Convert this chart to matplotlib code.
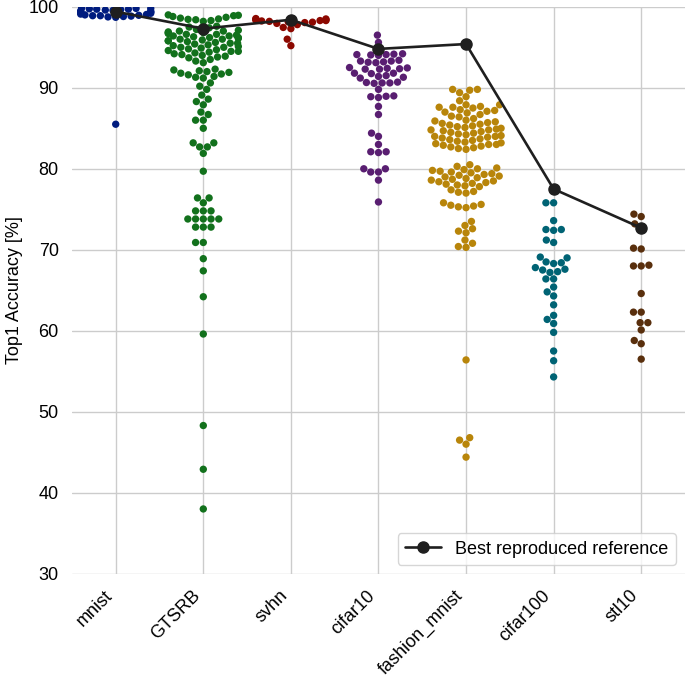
import matplotlib
matplotlib.use("Agg")
import matplotlib.pyplot as plt
import seaborn as sns
import pandas as pd
import warnings

warnings.filterwarnings("ignore")

datasets = ["mnist", "GTSRB", "svhn", "cifar10", "fashion_mnist", "cifar100", "stl10"]

mnist = [99.85, 99.8, 99.8, 99.75, 99.7, 99.7, 99.65, 99.6, 99.55, 99.5, 99.45,
         99.4, 99.35, 99.3, 99.2, 99.1, 99.05, 99.0, 98.95, 98.9, 98.9, 98.85,
         98.8, 98.75, 98.7, 85.5]
gtsrb = [99.0, 98.95, 98.9, 98.8, 98.7, 98.6, 98.5, 98.45, 98.4, 98.3, 98.2,
         97.6, 97.5, 97.4, 97.2,
         97.1, 97.0, 97.0, 96.9, 96.8, 96.8, 96.7, 96.6, 96.6, 96.5, 96.4, 96.4,
         96.3, 96.2, 96.2, 96.1, 96.0, 96.0, 95.9, 95.8, 95.8, 95.7, 95.6, 95.5,
         95.5, 95.4, 95.3, 95.2, 95.1, 95.0, 95.0, 94.9, 94.8, 94.7, 94.6, 94.5,
         94.5, 94.4, 94.3, 94.2, 94.1, 94.0, 93.9, 93.8, 93.7, 93.5, 93.3, 93.1,
         92.3, 92.2, 92.1, 92.0, 91.9, 91.8, 91.7, 91.6, 91.4, 91.3, 91.2,
         90.6, 90.2, 89.8, 89.1, 88.6, 88.3, 87.9, 87.0, 86.7, 86.0, 86.0, 85.0,
         83.2, 83.2, 82.7, 82.7, 81.9, 79.7,
         76.4, 76.4, 75.8, 74.8, 74.8, 74.8, 73.8, 73.8, 73.8, 73.8, 73.8,
         72.8, 72.8, 72.8, 70.9, 70.9, 68.9, 67.4, 64.2, 59.6, 48.3, 42.9, 38.0]
svhn = [98.55, 98.5, 98.45, 98.4, 98.35, 98.3, 98.3, 98.25, 98.2, 98.15, 98.1,
        98.05, 97.95, 97.8, 97.45, 97.3, 96.0, 95.2]
cifar10 = [96.5, 95.6, 94.2, 94.15, 94.1, 94.1, 94.05, 94.0, 93.4, 93.3, 93.3,
           93.2, 93.15, 93.1, 92.5, 92.45, 92.4, 92.35, 92.3, 92.3, 91.8, 91.8,
           91.75, 91.5, 91.4, 91.3, 91.2, 90.7, 90.65, 90.6, 90.6, 90.55, 89.8,
           89.0, 88.95, 88.9, 88.8, 87.7, 86.7, 84.4, 84.0, 83.0, 82.1, 82.1,
           82.0, 80.0, 80.0, 79.6, 79.6, 78.6, 75.9]
fashion_mnist = [89.8, 89.8, 89.7, 89.4, 88.9, 88.4,
                 87.9, 87.9, 87.7, 87.6, 87.6, 87.5, 87.3, 87.2, 87.1, 87.0, 86.9,
                 86.7, 86.5, 86.4, 86.2, 86.0, 85.9,
                 85.8, 85.7, 85.6, 85.5, 85.4, 85.3, 85.2, 85.1, 85.0, 84.9, 84.8,
                 84.8, 84.7, 84.6, 84.5, 84.4, 84.3, 84.2, 84.1, 84.0, 84.0, 83.9,
                 83.8, 83.7, 83.6, 83.5, 83.4, 83.3, 83.2, 83.1, 83.0, 83.0, 82.9,
                 82.8, 82.7, 82.6, 82.5, 82.4,
                 80.5, 80.3, 80.1,
                 80.0, 79.9, 79.8, 79.7, 79.6, 79.5, 79.4, 79.3, 79.2, 79.1, 79.0,
                 78.9, 78.8, 78.7, 78.6, 78.5, 78.4, 78.3, 78.2, 78.1, 78.0, 77.9,
                 77.8,
                 77.4, 77.2, 77.1, 77.0,
                 75.8, 75.6, 75.5, 75.4, 75.3, 75.2,
                 73.5, 73.0, 72.6, 72.3, 72.1,
                 71.2, 70.8, 70.4, 70.3,
                 56.4, 46.8, 46.5, 46.0, 44.4]
cifar100 = [75.8, 75.8, 73.6, 72.5, 72.5, 72.4, 71.2, 70.9, 69.1, 69.0, 68.5,
            68.4, 68.3, 67.8, 67.6, 67.5, 67.3, 67.2, 66.4, 66.4, 65.4, 64.8,
            64.3, 63.2, 61.9, 61.4, 60.9, 59.8, 57.5, 56.3, 54.3]
stl10 = [74.4, 74.1, 73.2, 72.7, 70.2, 70.1, 68.1, 68.0, 68.0, 64.6, 62.3, 62.3,
         61.0, 61.0, 60.1, 58.8, 58.4, 56.5]

best = [99.4, 97.3, 98.4, 94.8, 95.4, 77.5, 72.7]

colors = ["#001c7f", "#12711c", "#8c0800", "#591e71", "#b8850a", "#006374", "#592f0d"]

all_vals = [mnist, gtsrb, svhn, cifar10, fashion_mnist, cifar100, stl10]
rows = []
for name, vals in zip(datasets, all_vals):
    for v in vals:
        rows.append((name, v))
df = pd.DataFrame(rows, columns=["dataset", "acc"])

sns.set_theme(style="whitegrid")
plt.rcParams['font.family'] = ['Liberation Sans', 'DejaVu Sans']
plt.rcParams['text.color'] = 'black'
plt.rcParams['axes.labelcolor'] = 'black'
plt.rcParams['xtick.color'] = 'black'
plt.rcParams['ytick.color'] = 'black'

fig = plt.figure(figsize=(6.85, 6.79), dpi=100)
ax = fig.add_axes([0.105, 0.155, 0.895, 0.835])
ax.set_ylim(30, 100)

sns.swarmplot(data=df, x="dataset", y="acc", hue="dataset", order=datasets,
              hue_order=datasets, palette=colors, size=5.3, legend=False, ax=ax)

ax.plot(range(len(datasets)), best, "o-", color="#1f1f1f", lw=1.9, ms=8,
        label="Best reproduced reference", zorder=5)

ax.set_xlim(-0.5, 6.5)
ax.set_ylim(30, 100)
ax.xaxis.grid(True)
ax.yaxis.grid(True)
ax.set_xlabel("")
ax.set_ylabel("Top1 Accuracy [%]", fontsize=13)
ax.tick_params(axis="both", labelsize=13)
plt.setp(ax.get_xticklabels(), rotation=45, ha="right")
for s in ax.spines.values():
    s.set_visible(False)
ax.legend(loc="lower right", fontsize=13)

fig.savefig("out.png", dpi=100)
